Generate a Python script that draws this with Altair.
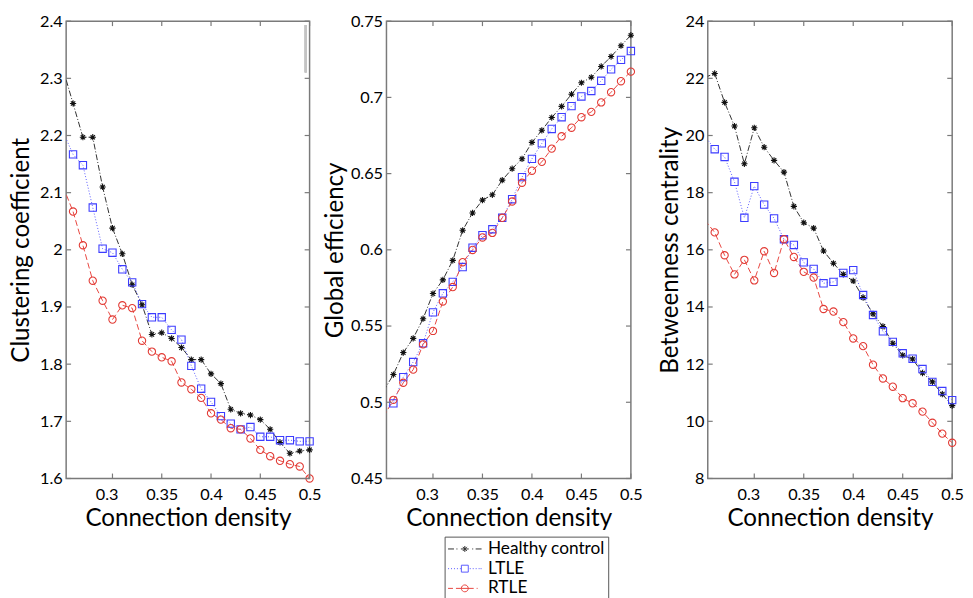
import altair as alt
import pandas as pd

# ---------------- data ----------------
density = [0.25, 0.26, 0.27, 0.28, 0.29, 0.30, 0.31, 0.32, 0.33, 0.34, 0.35, 0.36, 0.37,
           0.38, 0.39, 0.40, 0.41, 0.42, 0.43, 0.44, 0.45, 0.46, 0.47, 0.48, 0.49, 0.50]

groups = ["Healthy control", "LTLE", "RTLE"]

cc_hc = [2.315, 2.256, 2.197, 2.197, 2.110, 2.038, 1.993, 1.939, 1.904, 1.852, 1.855, 1.845, 1.829,
         1.808, 1.808, 1.783, 1.766, 1.721, 1.714, 1.711, 1.703, 1.686, 1.663, 1.644, 1.648, 1.650]
cc_ltle = [2.206, 2.167, 2.148, 2.074, 2.002, 1.995, 1.966, 1.943, 1.905, 1.882, 1.882, 1.860, 1.843,
           1.797, 1.757, 1.734, 1.709, 1.696, 1.686, 1.690, 1.673, 1.673, 1.667, 1.667, 1.665, 1.665]
cc_rtle = [2.110, 2.067, 2.008, 1.946, 1.911, 1.878, 1.903, 1.898, 1.841, 1.822, 1.812, 1.805, 1.768,
           1.756, 1.741, 1.714, 1.703, 1.688, 1.686, 1.670, 1.650, 1.639, 1.631, 1.625, 1.621, 1.600]

ge_hc = [0.5073, 0.5182, 0.5326, 0.5419, 0.5548, 0.5713, 0.5803, 0.5931, 0.6128, 0.6242, 0.6326, 0.6361, 0.6457,
         0.6532, 0.6597, 0.6705, 0.6784, 0.6868, 0.6941, 0.7021, 0.7096, 0.7132, 0.7203, 0.7268, 0.7339, 0.7408]
ge_ltle = [0.4960, 0.4993, 0.5165, 0.5264, 0.5387, 0.5590, 0.5715, 0.5790, 0.5887, 0.6014, 0.6096, 0.6135, 0.6210,
           0.6332, 0.6477, 0.6597, 0.6698, 0.6793, 0.6870, 0.6943, 0.7006, 0.7042, 0.7109, 0.7184, 0.7246, 0.7304]
ge_rtle = [0.4905, 0.5016, 0.5128, 0.5214, 0.5380, 0.5468, 0.5661, 0.5756, 0.5919, 0.5999, 0.6081, 0.6111, 0.6210,
           0.6317, 0.6440, 0.6519, 0.6577, 0.6664, 0.6745, 0.6801, 0.6870, 0.6905, 0.6967, 0.7034, 0.7106, 0.7169]

bc_hc = [22.03, 22.17, 21.16, 20.33, 19.01, 20.27, 19.59, 19.13, 18.72, 17.52, 16.95, 16.76, 15.96,
         15.53, 15.14, 14.91, 14.33, 13.76, 13.32, 12.73, 12.31, 12.18, 11.69, 11.38, 10.95, 10.55]
bc_ltle = [19.98, 19.52, 19.25, 18.38, 17.12, 18.23, 17.58, 17.10, 16.37, 16.17, 15.56, 15.33, 14.83,
           14.88, 15.19, 15.29, 14.42, 13.72, 13.15, 12.78, 12.38, 12.19, 11.83, 11.38, 11.06, 10.74]
bc_rtle = [17.04, 16.61, 15.81, 15.14, 15.65, 14.93, 15.95, 15.19, 16.37, 15.75, 15.23, 15.03, 13.93,
           13.84, 13.47, 12.90, 12.63, 11.98, 11.50, 11.21, 10.81, 10.63, 10.34, 9.95, 9.57, 9.25]

x_ticks = [0.3, 0.35, 0.4, 0.45, 0.5]
x_domain = [0.253, 0.5]
cc_ticks = [1.6, 1.7, 1.8, 1.9, 2.0, 2.1, 2.2, 2.3, 2.4]
ge_ticks = [0.45, 0.5, 0.55, 0.6, 0.65, 0.7, 0.75]
bc_ticks = [8, 10, 12, 14, 16, 18, 20, 22, 24]

# ---------------- styles ----------------
FONT = "Lato"
line_colors = ["#303030", "#5a5aff", "#e8453f"]
marker_colors = ["#111111", "#3c3cff", "#e23a34"]
dashes = [[6, 2, 1, 2], [1, 2], [6, 3]]
AST = "M-1,0L1,0M0,-1L0,1M-0.7,-0.7L0.7,0.7M-0.7,0.7L0.7,-0.7"
marker_shapes = [AST, "square", "circle"]
marker_sizes = [40, 55, 55]

# legend symbols: custom paths (line sample + marker), drawn in a box of LEG_BOX px
LEG_BOX = 18
LEG_SIZE = LEG_BOX * LEG_BOX
_S = LEG_BOX / 2.0


def _p(px, py=0.0):
    return "%.3f,%.3f" % (px / _S - 1.0, py / _S)


def _seg(a, b):
    return "M" + _p(a) + "L" + _p(b)


LEG_HC = (_seg(0, 6) + _seg(8.5, 9.5) + _seg(13, 21)
          + "M" + _p(17, -3) + "L" + _p(17, 3)
          + "M" + _p(14.9, -2.1) + "L" + _p(19.1, 2.1)
          + "M" + _p(14.9, 2.1) + "L" + _p(19.1, -2.1)
          + _seg(24.5, 25.5) + _seg(28, 34))
LEG_LT = ("".join(_seg(a, a + 1) for a in [0, 3, 6, 9, 12])
          + "M" + _p(13.5, -3.5) + "L" + _p(20.5, -3.5) + "L" + _p(20.5, 3.5)
          + "L" + _p(13.5, 3.5) + "Z"
          + "".join(_seg(a, a + 1) for a in [22, 25, 28, 31, 33]))
_r = 3.5 / _S
LEG_RT = (_seg(0, 5) + _seg(8, 26)
          + "M" + _p(20.5) + "A%.3f,%.3f 0 1,1 %s" % (_r, _r, _p(13.5))
          + "A%.3f,%.3f 0 1,1 %s" % (_r, _r, _p(20.5))
          + _seg(29, 30))
legend_paths = [LEG_HC, LEG_LT, LEG_RT]

W1, W, H = 247, 248, 464
TICK_LEN = 5
FRAME = "#7a7a7a"

# small shift of the 0.3 labels, as in the source figure
X_LABEL_SHIFT = {"condition": {"test": "abs(datum.value - 0.3) < 1e-6", "value": -6}, "value": 0}


def make_panel(series, y_domain, y_ticks, y_title, width, title_pad, legend=False, artifact=False):
    rows = []
    for g, vals in zip(groups, series):
        for xv, yv in zip(density, vals):
            rows.append({"density": xv, "value": yv, "group": g})
    df = pd.DataFrame(rows)

    xsc = alt.Scale(domain=x_domain, nice=False, zero=False)
    ysc = alt.Scale(domain=y_domain, nice=False, zero=False)
    xax = alt.Axis(values=x_ticks, format="~g", title="Connection density", labelFlush=False,
                   labelOffset=X_LABEL_SHIFT)
    yax = alt.Axis(values=y_ticks, format="~g", title=y_title, labelFlush=False,
                   titlePadding=title_pad)
    X = alt.X("density:Q", scale=xsc, axis=xax)
    Y = alt.Y("value:Q", scale=ysc, axis=yax)

    base = alt.Chart(df)
    layers = []
    for i, g in enumerate(groups):
        layers.append(
            base.transform_filter(alt.datum.group == g)
            .mark_line(clip=True, stroke=line_colors[i], strokeDash=dashes[i], strokeWidth=1)
            .encode(x=X, y=Y)
        )
    for i, g in enumerate(groups):
        layers.append(
            base.transform_filter((alt.datum.group == g) & (alt.datum.density > 0.255))
            .mark_point(shape=marker_shapes[i], filled=False, stroke=marker_colors[i],
                        size=marker_sizes[i], strokeWidth=1.1, opacity=1)
            .encode(x=X, y=Y)
        )

    # inward tick marks on all four sides
    xt = pd.DataFrame({"density": x_ticks})
    yt = pd.DataFrame({"value": y_ticks})
    layers.append(alt.Chart(xt).mark_rule(color=FRAME, strokeWidth=1.2).encode(
        x=X, y=alt.value(H), y2=alt.value(H - TICK_LEN)))
    layers.append(alt.Chart(xt).mark_rule(color=FRAME, strokeWidth=1.2).encode(
        x=X, y=alt.value(0), y2=alt.value(TICK_LEN)))
    layers.append(alt.Chart(yt).mark_rule(color=FRAME, strokeWidth=1.2).encode(
        y=Y, x=alt.value(0), x2=alt.value(TICK_LEN)))
    layers.append(alt.Chart(yt).mark_rule(color=FRAME, strokeWidth=1.2).encode(
        y=Y, x=alt.value(width - TICK_LEN), x2=alt.value(width)))

    if artifact:
        layers.append(alt.Chart(xt).mark_rule(color="#c4c4c4", strokeWidth=2).encode(
            x=alt.value(width - 4), y=alt.value(4), y2=alt.value(52)))

    if legend:
        leg = alt.Legend(title=None, orient="none", legendX=384, legendY=523,
                         labelFont=FONT, labelFontSize=17.5, labelColor="#000",
                         labelExpr="datum.label + '\u00a0\u00a0'",
                         strokeColor="#555", padding=3, labelOffset=22,
                         symbolOpacity=1, symbolStrokeWidth=1, symbolSize=LEG_SIZE,
                         symbolFillColor="transparent", rowPadding=2)
        layers.append(
            base.mark_point(opacity=0, filled=False, size=LEG_SIZE).encode(
                x=X, y=Y,
                color=alt.Color("group:N", scale=alt.Scale(domain=groups, range=line_colors), legend=leg),
                shape=alt.Shape("group:N", scale=alt.Scale(domain=groups, range=legend_paths), legend=leg),
            )
        )

    return alt.layer(*layers).properties(width=width, height=H)


p1 = make_panel([cc_hc, cc_ltle, cc_rtle], [1.6, 2.4], cc_ticks, "Clustering coefficient", W1, 6,
                artifact=True)
p2 = make_panel([ge_hc, ge_ltle, ge_rtle], [0.45, 0.75], ge_ticks, "Global efficiency", W, 3, legend=True)
p3 = make_panel([bc_hc, bc_ltle, bc_rtle], [8, 24], bc_ticks, "Betweenness centrality", W, 3)

chart = alt.hconcat(p1, p2, p3, spacing=78, bounds="flush").properties(
    padding={"left": 0, "top": 0, "right": 0, "bottom": 0}
).configure_view(
    stroke=FRAME, strokeWidth=1.5
).configure_axis(
    domain=False, ticks=False, tickSize=0, grid=False,
    labelFont=FONT, labelFontSize=16.5, labelColor="#000", labelPadding=4,
    titleFont=FONT, titleFontSize=24.5, titleFontWeight="normal", titleColor="#000",
).configure_axisX(
    labelPadding=8, titlePadding=4
)

chart.save("out.html", embed_options={"renderer": "svg", "actions": False})
